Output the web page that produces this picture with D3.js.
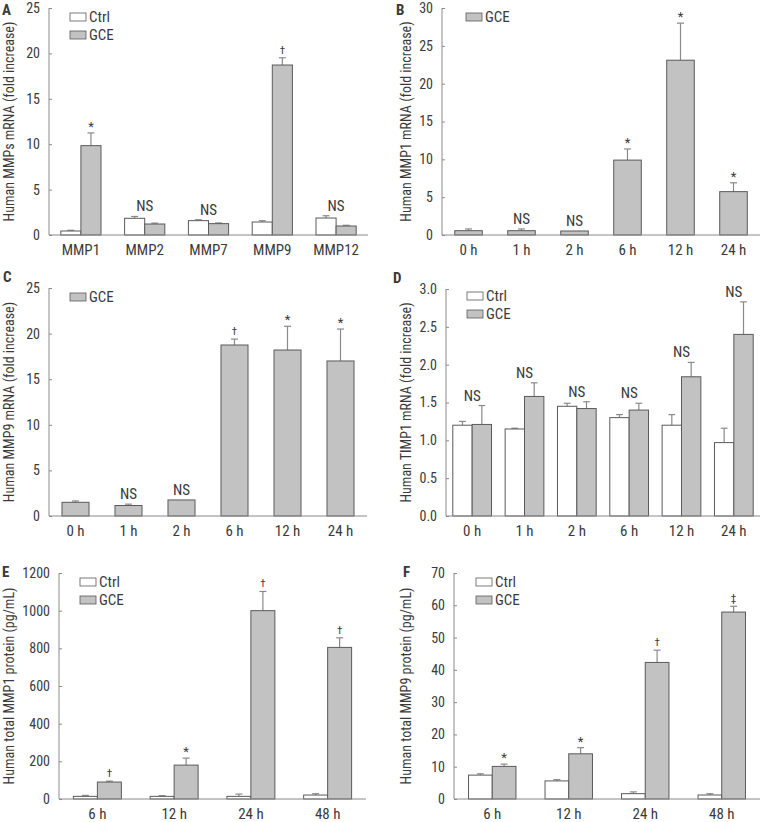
<!DOCTYPE html>
<html><head><meta charset="utf-8">
<script src="https://cdn.jsdelivr.net/npm/d3@7"></script>
<style>
body{margin:0;background:#fff;}
svg text{font-family:"Liberation Sans Narrow","Arial Narrow","Roboto Condensed","Liberation Sans",sans-serif;fill:#3a3a3a;}
</style></head>
<body><svg id="c" width="763" height="822"></svg>
<script>
// ---- Panel A ----
const catsA = ["MMP1","MMP2","MMP7","MMP9","MMP12"];
const ctrlA = [0.44,1.84,1.58,1.43,1.87];
const ctrlErrA = [0.08,0.2,0.1,0.15,0.25];
const gceA = [9.84,1.21,1.25,18.72,0.99];
const gceErrA = [1.4,0.1,0.08,0.8,0.08];
const annA = ["*","NS","NS","†","NS"];
const ticksA = [0,5,10,15,20,25];
// ---- Panel B ----
const catsB = ["0 h","1 h","2 h","6 h","12 h","24 h"];
const gceB = [0.57,0.57,0.53,9.9,23.1,5.73];
const gceErrB = [0.23,0.23,0,1.47,4.9,1.17];
const annB = ["","NS","NS","*","*","*"];
const ticksB = [0,5,10,15,20,25,30];
// ---- Panel C ----
const catsC = ["0 h","1 h","2 h","6 h","12 h","24 h"];
const gceC = [1.5,1.15,1.76,18.75,18.2,17.0];
const gceErrC = [0.15,0.15,0,0.65,2.6,3.5];
const annC = ["","NS","NS","†","*","*"];
const ticksC = [0,5,10,15,20,25];
// ---- Panel D ----
const catsD = ["0 h","1 h","2 h","6 h","12 h","24 h"];
const ctrlD = [1.2,1.15,1.45,1.3,1.2,0.97];
const ctrlErrD = [0.05,0.01,0.04,0.04,0.14,0.19];
const gceD = [1.21,1.58,1.42,1.40,1.84,2.40];
const gceErrD = [0.25,0.18,0.09,0.09,0.19,0.43];
const annD = ["NS","NS","NS","NS","NS","NS"];
const ticksD = [0,0.5,1.0,1.5,2.0,2.5,3.0];
// ---- Panel E ----
const catsE = ["6 h","12 h","24 h","48 h"];
const ctrlE = [14,14,14,21];
const ctrlErrE = [5,4,12,7];
const gceE = [90,180,1000,805];
const gceErrE = [5,37,102,51];
const annE = ["†","*","†","†"];
const ticksE = [0,200,400,600,800,1000,1200];
// ---- Panel F ----
const catsF = ["6 h","12 h","24 h","48 h"];
const ctrlF = [7.4,5.6,1.65,1.24];
const ctrlErrF = [0.4,0.4,0.55,0.4];
const gceF = [10.1,14.0,42.3,57.9];
const gceErrF = [0.7,1.9,3.8,1.8];
const annF = ["*","*","†","‡"];
const ticksF = [0,10,20,30,40,50,60,70];

const svg = d3.select("#c");
const AX = "#8a8a8a", OUT = "#5a5a5a", GCOL = "#c2c2c2", ERR = "#8a8a8a";

function panel(o){
  const g = svg.append("g");
  const x = d3.scaleBand().domain(o.cats).range([o.x0,o.x1]).paddingInner(o.pad).paddingOuter(o.pad/2);
  const y = d3.scaleLinear().domain([0,o.max]).range([o.yb,o.yt]);
  const series = o.ctrl ? [{k:"Ctrl",v:o.ctrl,e:o.ctrlErr,f:"#fff"},{k:"GCE",v:o.gce,e:o.gceErr,f:GCOL}] : [{k:"GCE",v:o.gce,e:o.gceErr,f:GCOL}];
  const xs = d3.scaleBand().domain(series.map(s=>s.k)).range([0,x.bandwidth()]);
  // axes
  const ya = d3.axisLeft(y).tickValues(o.ticks).tickSize(-3).tickPadding(9).tickFormat(o.fmt||d3.format("d"));
  const yg = g.append("g").attr("transform",`translate(${o.x0},0)`).call(ya);
  yg.select(".domain").attr("stroke",AX).attr("d",`M0,${o.yt}V${o.yb}`);
  yg.selectAll(".tick line").attr("stroke",AX);
  yg.selectAll(".tick text").attr("font-size",14).attr("fill","#3a3a3a").style("font-family",null);
  // bars
  series.forEach(s=>{
    o.cats.forEach((c,i)=>{
      const bx = x(c)+xs(s.k), bw = xs.bandwidth();
      const top = s.v[i]+s.e[i];
      if(s.e[i]>0){
        const cx = bx+bw/2, cw = Math.min(7, bw*0.35);
        g.append("line").attr("x1",cx).attr("x2",cx).attr("y1",y(s.v[i])).attr("y2",y(top)).attr("stroke",ERR).attr("stroke-width",1.2);
        g.append("line").attr("x1",cx-cw/2).attr("x2",cx+cw/2).attr("y1",y(top)).attr("y2",y(top)).attr("stroke",ERR).attr("stroke-width",1.2);
      }
      g.append("rect").attr("x",bx).attr("y",y(s.v[i])).attr("width",bw).attr("height",y(0)-y(s.v[i]))
        .attr("fill",s.f).attr("stroke",OUT).attr("stroke-width",1);
    });
  });
  // x axis line
  g.append("line").attr("x1",o.x0).attr("x2",o.x1).attr("y1",y(0)).attr("y2",y(0)).attr("stroke",AX).attr("stroke-width",1);
  // category labels
  o.cats.forEach(c=>{
    g.append("text").attr("x",x(c)+x.bandwidth()/2).attr("y",y(0)+20).attr("text-anchor","middle").attr("font-size",15).text(c);
  });
  // annotations
  o.ann.forEach((a,i)=>{
    if(!a) return;
    const c = o.cats[i];
    let ax, top;
    const gs = series[series.length-1];
    if(a==="NS" && series.length>1){
      ax = x(c)+x.bandwidth()/2;
      top = d3.max(series, s=>s.v[i]+s.e[i]);
    } else {
      ax = x(c)+xs(gs.k)+xs.bandwidth()/2;
      top = gs.v[i]+gs.e[i];
    }
    const fs = a==="NS"?15:(a==="*"?13:11);
    const off = a==="NS"?5:(a==="*"?2:4);
    g.append("text").attr("x",ax).attr("y",y(top)-off).attr("text-anchor","middle").attr("font-size",fs).text(a);
  });
  // legend
  series.forEach((s,j)=>{
    const ly = o.ly + j*18;
    g.append("rect").attr("x",o.lx).attr("y",ly).attr("width",16).attr("height",8).attr("fill",s.f).attr("stroke",OUT).attr("stroke-width",0.8);
    g.append("text").attr("x",o.lx+19).attr("y",ly+4).attr("dominant-baseline","central").attr("font-size",15).text(s.k);
  });
  // y label
  const my = (o.yt+o.yb)/2;
  g.append("text").attr("transform",`translate(${o.labx},${my}) rotate(-90)`).attr("text-anchor","middle")
    .attr("dominant-baseline","central").attr("font-size",14).text(o.ylab);
  // panel letter
  g.append("text").attr("x",o.px).attr("y",o.py).attr("font-size",15).attr("font-weight","bold").attr("fill","#222").text(o.letter);
}

panel({cats:catsA,ctrl:ctrlA,ctrlErr:ctrlErrA,gce:gceA,gceErr:gceErrA,ann:annA,ticks:ticksA,max:25,
  x0:49,x1:368,yt:8,yb:235,pad:0.37,lx:70,ly:13,labx:9,ylab:"Human MMPs mRNA (fold increase)",letter:"A",px:2,py:15});
panel({cats:catsB,gce:gceB,gceErr:gceErrB,ann:annB,ticks:ticksB,max:30,
  x0:442,x1:760,yt:8,yb:235,pad:0.48,lx:466,ly:13,labx:406,ylab:"Human MMP1 mRNA (fold increase)",letter:"B",px:396,py:15});
panel({cats:catsC,gce:gceC,gceErr:gceErrC,ann:annC,ticks:ticksC,max:25,
  x0:49,x1:367,yt:288,yb:516,pad:0.49,lx:70,ly:293,labx:9,ylab:"Human MMP9 mRNA (fold increase)",letter:"C",px:3,py:282});
panel({cats:catsD,ctrl:ctrlD,ctrlErr:ctrlErrD,gce:gceD,gceErr:gceErrD,ann:annD,ticks:ticksD,max:3,fmt:d3.format(".1f"),
  x0:446,x1:760,yt:289,yb:516,pad:0.26,lx:467,ly:292,labx:406,ylab:"Human TIMP1 mRNA (fold increase)",letter:"D",px:393,py:283});
panel({cats:catsE,ctrl:ctrlE,ctrlErr:ctrlErrE,gce:gceE,gceErr:gceErrE,ann:annE,ticks:ticksE,max:1200,
  x0:59,x1:366,yt:573,yb:799,pad:0.375,lx:80,ly:578,labx:9,ylab:"Human total MMP1 protein (pg/mL)",letter:"E",px:2,py:577});
panel({cats:catsF,ctrl:ctrlF,ctrlErr:ctrlErrF,gce:gceF,gceErr:gceErrF,ann:annF,ticks:ticksF,max:70,
  x0:454,x1:760,yt:573,yb:799,pad:0.38,lx:476,ly:578,labx:406,ylab:"Human total MMP9 protein (pg/mL)",letter:"F",px:403,py:577});
</script></body></html>
